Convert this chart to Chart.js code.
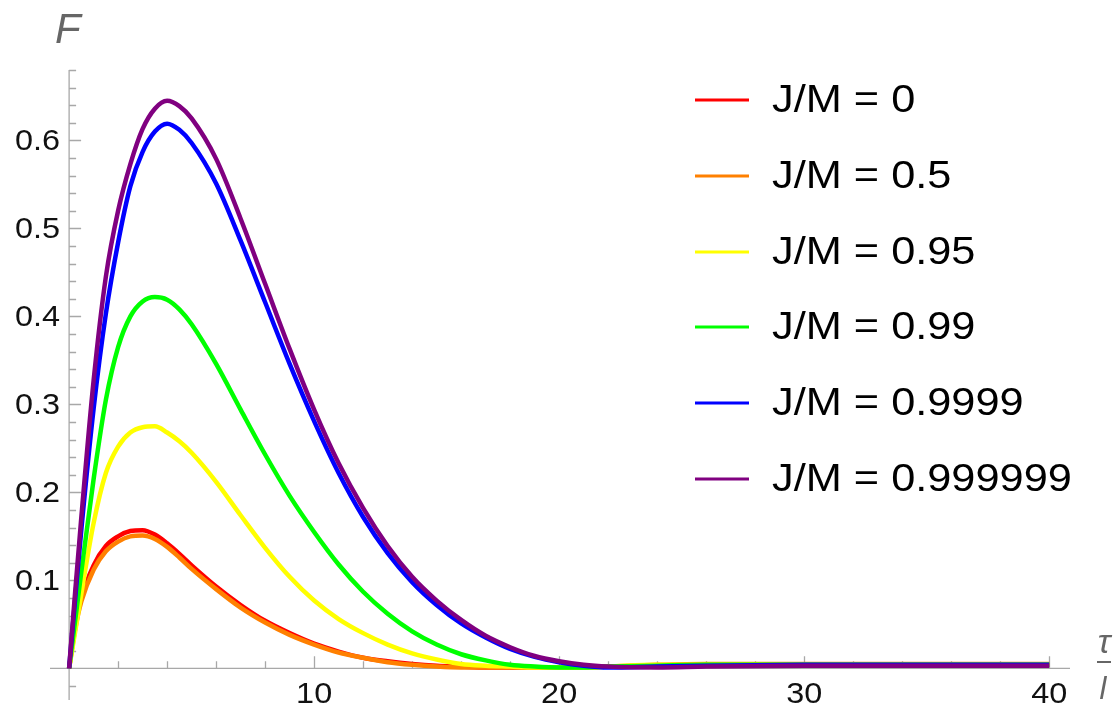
<!DOCTYPE html>
<html>
<head>
<meta charset="utf-8">
<script src="https://cdn.jsdelivr.net/npm/chart.js@4.4.1/dist/chart.umd.min.js"></script>
<style>
  html, body { margin: 0; padding: 0; background: #fff; }
  #wrap { width: 1117px; height: 711px; position: relative; }
</style>
</head>
<body>
<div id="wrap"><canvas id="plot" width="1117" height="711"></canvas></div>
<script>
// tau / l sample points
const tau = [0, 0.25, 0.5, 1, 1.5, 2, 2.5, 3, 3.5, 4, 4.5, 5, 6, 7, 8, 9, 10, 11, 12, 13, 14, 15, 16, 17, 18, 19, 20, 21, 22, 24, 26, 30, 35, 40];

// F values, one list per J/M
const fJ0      = [0, 0.048, 0.080, 0.117, 0.139, 0.150, 0.156, 0.157, 0.152, 0.142, 0.130, 0.117, 0.093, 0.072, 0.054, 0.040, 0.028, 0.019, 0.012, 0.008, 0.005, 0.003, 0.002, 0.001, 0.001, 0.001, 0.001, 0.001, 0.002, 0.003, 0.004, 0.004, 0.004, 0.004];
const fJ05     = [0, 0.045, 0.076, 0.112, 0.133, 0.144, 0.150, 0.151, 0.147, 0.138, 0.126, 0.113, 0.090, 0.069, 0.052, 0.038, 0.027, 0.018, 0.012, 0.007, 0.004, 0.002, 0.001, 0.001, 0.001, 0.001, 0.001, 0.001, 0.002, 0.004, 0.005, 0.005, 0.005, 0.005];
const fJ095    = [0, 0.042, 0.085, 0.165, 0.222, 0.252, 0.268, 0.274, 0.275, 0.268, 0.258, 0.245, 0.212, 0.174, 0.137, 0.104, 0.077, 0.056, 0.040, 0.027, 0.017, 0.010, 0.005, 0.003, 0.002, 0.001, 0.001, 0.001, 0.002, 0.004, 0.004, 0.004, 0.004, 0.004];
const fJ099    = [0, 0.055, 0.110, 0.215, 0.305, 0.365, 0.400, 0.417, 0.422, 0.419, 0.408, 0.391, 0.346, 0.294, 0.243, 0.196, 0.155, 0.118, 0.087, 0.062, 0.042, 0.027, 0.016, 0.009, 0.004, 0.002, 0.001, 0.001, 0.002, 0.003, 0.004, 0.004, 0.004, 0.004];
const fJ09999  = [0, 0.080, 0.158, 0.295, 0.403, 0.484, 0.548, 0.587, 0.610, 0.619, 0.612, 0.597, 0.551, 0.486, 0.416, 0.346, 0.281, 0.222, 0.172, 0.131, 0.098, 0.072, 0.051, 0.035, 0.022, 0.013, 0.007, 0.003, 0.001, 0.002, 0.003, 0.004, 0.004, 0.004];
const fJ099999 = [0, 0.088, 0.172, 0.327, 0.445, 0.520, 0.573, 0.613, 0.636, 0.645, 0.639, 0.625, 0.579, 0.511, 0.437, 0.363, 0.294, 0.233, 0.182, 0.139, 0.104, 0.077, 0.055, 0.037, 0.024, 0.014, 0.008, 0.004, 0.002, 0.001, 0.002, 0.003, 0.003, 0.003];

const seriesLabels = ['J/M = 0', 'J/M = 0.5', 'J/M = 0.95', 'J/M = 0.99', 'J/M = 0.9999', 'J/M = 0.999999'];
const seriesData = [fJ0, fJ05, fJ095, fJ099, fJ09999, fJ099999];
const seriesColors = ['#ff0000', '#ff8000', '#ffff00', '#00ff00', '#0000ff', '#800080'];

const xMajorTicks = [10, 20, 30, 40];
const yMajorTicks = [0.1, 0.2, 0.3, 0.4, 0.5, 0.6];

const AXIS_COLOR = '#a8a8a8';
const LABEL_FONT = '"Liberation Sans", Arial, sans-serif';

const datasets = seriesData.map((ys, i) => ({
  label: seriesLabels[i],
  data: tau.map((t, k) => ({ x: t, y: ys[k] })),
  borderColor: seriesColors[i],
  borderWidth: 4.5,
  pointRadius: 0,
  fill: false,
  cubicInterpolationMode: 'monotone',
  order: seriesData.length - i // later series on top, like the original
}));

// the original's lettering is a bit wider than plain Arial
function wideText(ctx, txt, x, y, sx) {
  ctx.save();
  ctx.translate(x, y);
  ctx.scale(sx, 1);
  ctx.fillText(txt, 0, 0);
  ctx.restore();
}

const axesPlugin = {
  id: 'mmaAxes',
  beforeDatasetsDraw(chart) {
    const { ctx, chartArea: a, scales: { x, y } } = chart;
    const x0 = x.getPixelForValue(0);
    const y0 = y.getPixelForValue(0);
    ctx.save();
    ctx.strokeStyle = AXIS_COLOR;
    ctx.lineWidth = 1.3;
    ctx.beginPath();
    ctx.moveTo(a.left, y0); ctx.lineTo(a.right, y0);
    ctx.moveTo(x0, a.top); ctx.lineTo(x0, a.bottom);
    ctx.stroke();

    // x ticks: minor every 2, major every 10
    ctx.beginPath();
    for (let v = 2; v <= x.max; v += 2) {
      const px = Math.round(x.getPixelForValue(v)) + 0.5;
      const len = v % 10 === 0 ? 12 : 7;
      ctx.moveTo(px, y0); ctx.lineTo(px, y0 - len);
    }
    // y ticks: minor every 0.02, major every 0.1
    for (let k = -1; k * 0.02 <= y.max; k++) {
      if (k === 0) continue;
      const py = Math.round(y.getPixelForValue(k * 0.02)) + 0.5;
      const len = k % 5 === 0 ? 12 : 7;
      ctx.moveTo(x0, py); ctx.lineTo(x0 + len, py);
    }
    ctx.stroke();

    ctx.fillStyle = '#111';
    ctx.font = '30px ' + LABEL_FONT;
    ctx.textAlign = 'center';
    ctx.textBaseline = 'middle';
    xMajorTicks.forEach(v => wideText(ctx, String(v), x.getPixelForValue(v), y0 + 26, 1.08));
    ctx.textAlign = 'right';
    yMajorTicks.forEach(v => wideText(ctx, v.toFixed(1), x0 - 9, y.getPixelForValue(v) + 1, 1.08));
    ctx.restore();
  },
  afterDraw(chart) {
    const { ctx } = chart;
    ctx.save();
    // axis labels
    ctx.fillStyle = '#666';
    ctx.font = 'italic 42px ' + LABEL_FONT;
    ctx.textAlign = 'left';
    ctx.textBaseline = 'alphabetic';
    ctx.fillText('F', 55, 43);
    ctx.textAlign = 'center';
    ctx.font = 'italic 34px ' + LABEL_FONT;
    ctx.fillText('τ', 1104, 653);
    ctx.fillRect(1097, 661, 14, 2);
    ctx.font = 'italic 31px ' + LABEL_FONT;
    ctx.fillText('l', 1103, 699);

    // legend
    const rowY = [100, 176, 252, 327, 403, 479];
    ctx.font = '38px ' + LABEL_FONT;
    ctx.textAlign = 'left';
    ctx.textBaseline = 'middle';
    seriesLabels.forEach((lab, i) => {
      ctx.strokeStyle = seriesColors[i];
      ctx.lineWidth = 3;
      ctx.beginPath();
      ctx.moveTo(695, rowY[i]); ctx.lineTo(749, rowY[i]);
      ctx.stroke();
      ctx.fillStyle = '#000';
      wideText(ctx, lab, 772, rowY[i] + 2, 1.14);
    });
    ctx.restore();
  }
};

new Chart(document.getElementById('plot').getContext('2d'), {
  type: 'line',
  data: { datasets },
  options: {
    responsive: false,
    animation: false,
    layout: { padding: { left: 50, right: 47, top: 70, bottom: 11 } },
    plugins: { legend: { display: false }, tooltip: { enabled: false } },
    scales: {
      x: { type: 'linear', min: -0.78, max: 40.85, display: false },
      y: { type: 'linear', min: -0.036, max: 0.68, display: false }
    }
  },
  plugins: [axesPlugin]
});
</script>
</body>
</html>
